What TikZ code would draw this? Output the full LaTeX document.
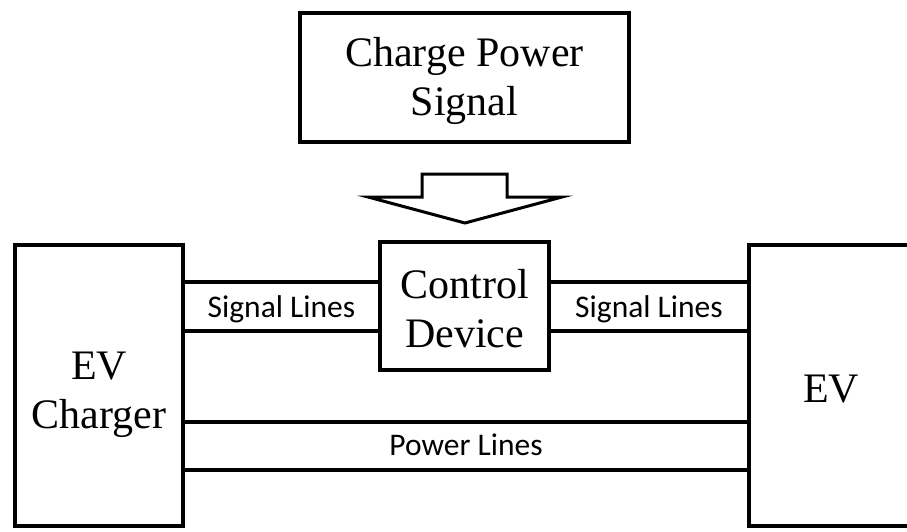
\documentclass[tikz,border=0pt]{standalone}
\usepackage{fontspec}
\setmainfont{Liberation Serif}
\newfontfamily\labelfont{Carlito}
\usetikzlibrary{positioning}

\begin{document}
\begin{tikzpicture}[x=1pt, y=-1pt,
  block/.style={draw, line width=4pt, inner sep=0pt},
  txt/.style={inner sep=0pt, align=center, anchor=base,
    font=\fontsize{42}{49}\selectfont},
  wire/.style={line width=4pt},
  lbl/.style={font=\labelfont\fontsize{31.5}{36}\selectfont, inner sep=0pt, anchor=base}]
  \useasboundingbox (0,0) rectangle (907,531);
  \clip (0,0) rectangle (907,531);

  % Blocks
  \node[block, minimum width=329pt, minimum height=129pt] (cps) at (464.5,77.5) {};
  \node[block, minimum width=169pt, minimum height=128pt] (ctrl) at (464.5,306) {};
  \node[block, minimum width=168pt, minimum height=281pt] (charger) at (99,385.5) {};
  \node[block, minimum width=200pt, minimum height=281pt] (ev) at (849,385.5) {};

  % Block texts (base = last line)
  \node[txt] (cps-txt) at (464.5,115) {Charge Power\\Signal};
  \node[txt] (ctrl-txt) at (464.5,347) {Control\\Device};
  \node[txt] (charger-txt) at (99,428) {EV\\Charger};
  \node[txt] (ev-txt) at (831,402) {EV};

  % Hollow arrow
  \draw[line width=3pt] (422,174) -- (507,174) -- (507,197) -- (562,197)
    -- (465,223) -- (368,197) -- (422,197) -- cycle;

  % Signal lines
  \draw[wire] (charger.east |- 0,282) -- (ctrl.west |- 0,282);
  \draw[wire] (charger.east |- 0,331) -- (ctrl.west |- 0,331);
  \draw[wire] (ctrl.east |- 0,282) -- (ev.west |- 0,282);
  \draw[wire] (ctrl.east |- 0,331) -- (ev.west |- 0,331);
  \node[lbl] (sigl) at (281.5,317) {Signal Lines};
  \node[lbl] (sigr) at (649,317) {Signal Lines};

  % Power lines
  \draw[wire] (charger.east |- 0,422) -- (ev.west |- 0,422);
  \draw[wire] (charger.east |- 0,470) -- (ev.west |- 0,470);
  \node[lbl] (pwr) at (466,455) {Power Lines};
\end{tikzpicture}
\end{document}
